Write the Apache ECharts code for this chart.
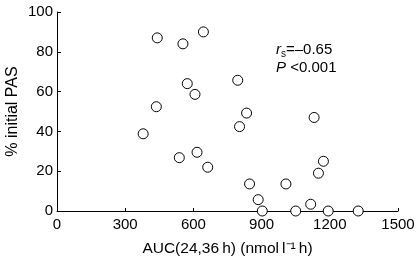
<!DOCTYPE html>
<html>
<head>
<meta charset="utf-8">
<script src="https://cdn.jsdelivr.net/npm/echarts@6/dist/echarts.min.js"></script>
<style>
  html, body { margin: 0; padding: 0; background: #fff; }
  #chart { width: 416px; height: 258px; }
</style>
</head>
<body>
<div id="chart"></div>
<script>
// AUC(24,36h) values and % initial PAS
const aucValues = [441, 554, 644, 573, 607, 437, 795, 834, 1131, 803,
  379, 538, 616, 663, 1172, 1150, 847, 1007, 885, 1116,
  903, 1050, 1193, 1325];
const pasValues = [87, 84, 90, 64, 58.6, 52.4, 65.7, 49.2, 47, 42.4,
  38.8, 26.8, 29.5, 22, 25, 19, 13.6, 13.6, 5.7, 3.4,
  0, 0, 0, 0];
const xTicks = [0, 300, 600, 900, 1200, 1500];
const yTicks = [0, 20, 40, 60, 80, 100];

const points = aucValues.map((v, i) => [v, pasValues[i]]);

const chart = echarts.init(document.getElementById('chart'));
const font = 'Liberation Sans, Arial, sans-serif';
chart.setOption({
  animation: false,
  textStyle: { fontFamily: font },
  grid: { left: 57, right: 18, top: 12, bottom: 47, outerBoundsMode: 'none', containLabel: false },
  xAxis: {
    type: 'value',
    min: xTicks[0],
    max: xTicks[xTicks.length - 1],
    interval: 300,
    name: 'AUC(24,36\u2009h) (nmol\u2009l\u207B\u00B9\u2009h)',
    nameLocation: 'middle',
    nameGap: 30,
    nameMoveOverlap: false,
    nameTextStyle: { color: '#000', fontSize: 15.5, fontFamily: font },
    axisLine: { lineStyle: { color: '#000', width: 1 } },
    axisTick: { inside: true, length: 3, lineStyle: { color: '#000' } },
    axisLabel: { color: '#000', fontSize: 15, margin: 6, fontFamily: font, formatter: v => String(v) },
    splitLine: { show: false }
  },
  yAxis: {
    type: 'value',
    min: yTicks[0],
    max: yTicks[yTicks.length - 1],
    interval: 20,
    name: '% initial PAS',
    nameLocation: 'middle',
    nameGap: 36,
    nameMoveOverlap: false,
    nameTextStyle: { color: '#000', fontSize: 16, fontFamily: font },
    axisLine: { show: true, lineStyle: { color: '#000', width: 1 } },
    axisTick: { show: true, inside: true, length: 4, lineStyle: { color: '#000' } },
    axisLabel: { color: '#000', fontSize: 15, margin: 4, fontFamily: font, formatter: v => String(v) },
    splitLine: { show: false }
  },
  graphic: [
    {
      type: 'text',
      left: 276,
      top: 41,
      style: {
        text: '{i|r}{sub|s}{n|=\u20130.65}\n{i|P}{n| <0.001}',
        fill: '#000',
        font: '15px ' + font,
        lineHeight: 18,
        rich: {
          i: { fontStyle: 'italic', fontSize: 15, fontFamily: font, lineHeight: 18 },
          sub: { fontSize: 10, fontFamily: font, verticalAlign: 'bottom', padding: [7, 0, 0, 0], lineHeight: 18 },
          n: { fontSize: 15, fontFamily: font, lineHeight: 18 }
        }
      }
    }
  ],
  series: [{
    type: 'scatter',
    data: points,
    symbol: 'circle',
    symbolSize: 10,
    itemStyle: { color: '#fff', borderColor: '#000', borderWidth: 1, opacity: 1 },
    clip: false
  }]
});
</script>
</body>
</html>
